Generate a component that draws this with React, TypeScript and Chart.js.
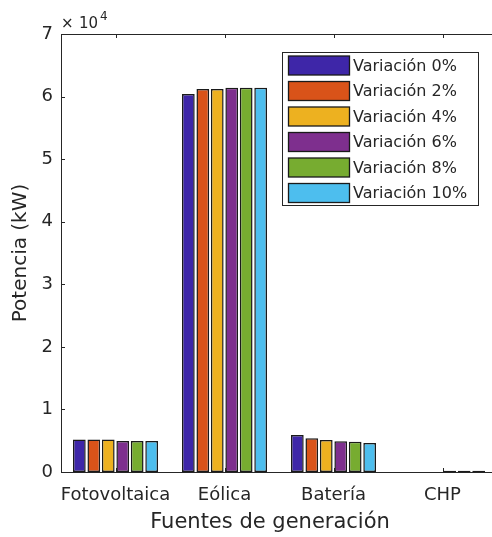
import React, { useEffect, useRef } from "react";
import { Chart, registerables } from "chart.js";

Chart.register(...registerables);

const categories = ["Fotovoltaica", "Eólica", "Batería", "CHP"];
const seriesNames = [
  "Variación 0%",
  "Variación 2%",
  "Variación 4%",
  "Variación 6%",
  "Variación 8%",
  "Variación 10%",
];
const seriesColors = ["#3E26A8", "#D95319", "#EDB120", "#7E2F8E", "#77AC30", "#4DBEEE"];
const var0 = [5200, 60400, 5900, 0];
const var2 = [5200, 61200, 5400, 0];
const var4 = [5200, 61200, 5100, 0];
const var6 = [4950, 61400, 4900, 200];
const var8 = [4950, 61400, 4850, 200];
const var10 = [4950, 61400, 4650, 200];
const seriesValues = [var0, var2, var4, var6, var8, var10];
const yTickValues = [0, 10000, 20000, 30000, 40000, 50000, 60000, 70000];
const exponentBase = "10";
const exponentPower = "4";
const xTitle = "Fuentes de generación";
const yTitle = "Potencia (kW)";

const FONT = "'DejaVu Sans', sans-serif";
const AX = "#262626";

const decorPlugin = {
  id: "decor",
  beforeDatasetsDraw(chart: any) {
    const { ctx, chartArea } = chart;
    const { left, right, top, bottom } = chartArea;
    const ys = chart.scales.y;
    const xs = chart.scales.x;
    ctx.save();
    ctx.strokeStyle = AX;
    ctx.lineWidth = 1;
    ctx.beginPath();
    yTickValues.forEach((v) => {
      const y = Math.round(ys.getPixelForValue(v)) + 0.5;
      ctx.moveTo(left, y);
      ctx.lineTo(left + 4, y);
      ctx.moveTo(right - 4, y);
      ctx.lineTo(right, y);
    });
    categories.forEach((_, i) => {
      const x = Math.round(xs.getPixelForValue(i)) + 0.5;
      ctx.moveTo(x, bottom);
      ctx.lineTo(x, bottom - 4);
      ctx.moveTo(x, top);
      ctx.lineTo(x, top + 4);
    });
    ctx.stroke();
    ctx.restore();
  },
  afterDraw(chart: any) {
    const { ctx, chartArea } = chart;
    const { left, right, top, bottom } = chartArea;
    ctx.save();
    ctx.strokeStyle = AX;
    ctx.lineWidth = 1;
    ctx.beginPath();
    ctx.moveTo(left, Math.round(top) + 0.5);
    ctx.lineTo(right, Math.round(top) + 0.5);
    ctx.moveTo(Math.round(right) - 0.5, top);
    ctx.lineTo(Math.round(right) - 0.5, bottom);
    ctx.stroke();

    // x axis title
    ctx.fillStyle = AX;
    ctx.font = `21px ${FONT}`;
    ctx.textAlign = "center";
    ctx.textBaseline = "middle";
    ctx.fillText(xTitle, 270, 523);

    // exponent
    ctx.textBaseline = "alphabetic";
    ctx.textAlign = "left";
    ctx.font = `15px ${FONT}`;
    ctx.fillText("\u00D7", left, 28);
    ctx.fillText(exponentBase, left + 18, 28);
    ctx.font = `12px ${FONT}`;
    ctx.fillText(exponentPower, left + 39, 20);

    // legend
    const bx = 282, by = 52, bw = 196, bh = 153;
    ctx.fillStyle = "#ffffff";
    ctx.fillRect(bx, by, bw, bh);
    ctx.strokeStyle = AX;
    ctx.strokeRect(bx + 0.5, by + 0.5, bw, bh);
    ctx.font = `16px ${FONT}`;
    ctx.textBaseline = "middle";
    chart.data.datasets.forEach((ds: any, i: number) => {
      const cy = 65.5 + i * 25.5;
      ctx.fillStyle = ds.backgroundColor;
      ctx.fillRect(288.5, cy - 9.5, 61, 19);
      ctx.lineWidth = 1.3;
      ctx.strokeStyle = "#1a1a1a";
      ctx.strokeRect(288.5, cy - 9.5, 61, 19);
      ctx.fillStyle = AX;
      ctx.fillText(ds.label, 353, cy + 1);
    });
    ctx.restore();
  },
};

export default function App() {
  const ref = useRef<HTMLCanvasElement>(null);
  useEffect(() => {
    if (!ref.current) return;
    const chart = new Chart(ref.current, {
      type: "bar",
      data: {
        labels: categories,
        datasets: seriesNames.map((name, i) => ({
          label: name,
          data: seriesValues[i],
          backgroundColor: seriesColors[i],
          borderColor: "#1a1a1a",
          borderWidth: 1.5,
          borderSkipped: false,
          categoryPercentage: 0.796,
          barPercentage: 0.878,
        })),
      },
      options: {
        responsive: false,
        animation: false,
        devicePixelRatio: 1,
        layout: { padding: { top: 34, right: 3, left: 0, bottom: 0 } },
        plugins: {
          legend: { display: false },
          tooltip: { enabled: false },
          title: { display: false },
        },
        scales: {
          x: {
            type: "category",
            offset: true,
            grid: { display: false, drawTicks: false },
            border: { display: true, color: AX, width: 1 },
            ticks: { font: { family: FONT, size: 18 }, color: AX, padding: 13, maxRotation: 0, autoSkip: false },
            title: { display: false },
            afterFit: (s: any) => {
              s.height = 65;
            },
          },
          y: {
            min: 0,
            max: 70000,
            grid: { display: false, drawTicks: false },
            border: { display: true, color: AX, width: 1 },
            ticks: {
              stepSize: 10000,
              font: { family: FONT, size: 18 },
              color: AX,
              padding: 8,
              callback: (v: any) => String(Number(v) / 10000),
            },
            title: {
              display: true,
              text: yTitle,
              font: { family: FONT, size: 20 },
              color: AX,
              padding: { top: 9, bottom: 0 },
            },
            afterFit: (s: any) => {
              s.width = 61;
            },
          },
        },
      },
      plugins: [decorPlugin],
    });
    return () => chart.destroy();
  }, []);
  return (
    <div
      style={{
        position: "fixed",
        left: 0,
        top: 0,
        width: 492,
        height: 537,
        overflow: "hidden",
        background: "#fff",
      }}
    >
      <canvas ref={ref} width={500} height={537} style={{ display: "block" }} />
    </div>
  );
}
